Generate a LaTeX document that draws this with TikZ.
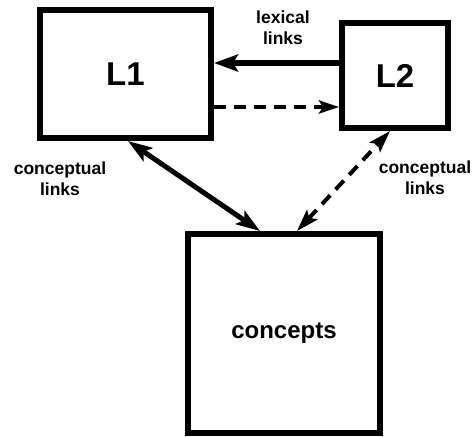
\documentclass[tikz,border=0pt]{standalone}
\usepackage{fontspec}
\setmainfont{Liberation Sans}
\usepackage{tikz}
\usetikzlibrary{arrows.meta}
\tikzset{
    box/.style = {rectangle, draw=black, line width=6pt, align=center, inner sep=0pt, text centered, font=\bfseries},
    lbl/.style = {align=center, inner sep=0pt, text centered, font=\bfseries\fontsize{17.5}{21}\selectfont},
    lex/.style = {line width=5.5pt, -{Stealth[length=24pt, width=17pt, inset=5pt]}},
    dlex/.style = {line width=4pt, dash pattern=on 12pt off 8pt, -{Stealth[length=20pt, width=13pt, inset=4pt]}},
    con/.style = {line width=5pt, {Stealth[length=24pt, width=16pt, inset=5pt]}-{Stealth[length=24pt, width=16pt, inset=5pt]}},
    dcon/.style = {line width=4pt, dash pattern=on 12pt off 8pt, {Stealth[length=22pt, width=14pt, inset=4pt]}-{Stealth[length=22pt, width=14pt, inset=4pt]}}
}

\begin{document}
\begin{tikzpicture}[x=1pt, y=-1pt]
    \useasboundingbox (0,0) rectangle (473,436);
    % language boxes
    \node (L1) [box, minimum width=171pt, minimum height=128pt, font=\bfseries\fontsize{33}{38}\selectfont] at (125.5,74) {L1};
    \node (L2) [box, minimum width=106pt, minimum height=105pt, font=\bfseries\fontsize{33}{38}\selectfont] at (395,75.5) {L2};
    \node (C) [box, minimum width=192pt, minimum height=199pt, font=\bfseries\fontsize{24}{28}\selectfont] at (284,333.5) {concepts};
    % labels
    \node (lexlbl) [lbl] at (283,28) {lexical\\links};
    \node (conlbl1) [lbl] at (60,179) {conceptual\\links};
    \node (conlbl2) [lbl] at (425,178) {conceptual\\links};
    % links
    \draw [lex] ([yshift=12.5pt]L2.west) -- ([yshift=11pt]L1.east);
    \draw [dlex] ([yshift=-33pt]L1.east) -- ([yshift=-31.5pt]L2.west);
    \draw [con] ([xshift=2.5pt]L1.south) -- ([xshift=-24pt]C.north);
    \draw [dcon] ([xshift=13pt]C.north) -- ([xshift=-5pt]L2.south);
\end{tikzpicture}
\end{document}
